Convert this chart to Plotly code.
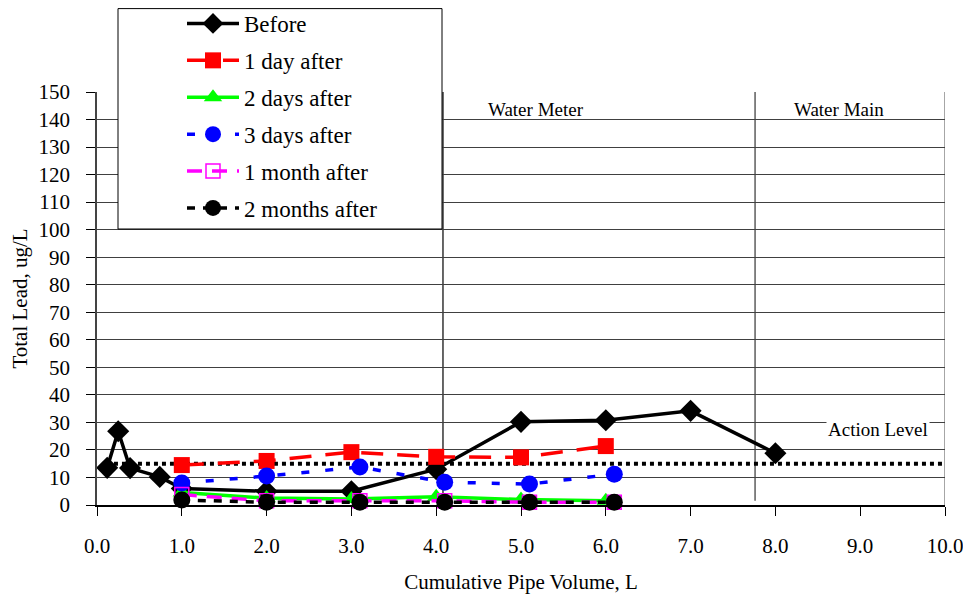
import plotly.graph_objects as go

# ---- data ----
before_x = [0.12, 0.25, 0.39, 0.74, 1.0, 2.0, 3.0, 4.0, 5.0, 6.0, 7.0, 8.0]
before_y = [13.5, 26.8, 13.4, 10.2, 6.0, 5.0, 5.0, 13.0, 30.2, 30.8, 34.2, 18.8]

day1_x = [1.0, 2.0, 3.0, 4.0, 5.0, 6.0]
day1_y = [14.5, 16.0, 19.2, 17.5, 17.3, 21.4]

day2_x = [1.0, 2.0, 3.0, 4.0, 5.0, 6.0]
day2_y = [4.5, 2.5, 2.2, 3.0, 2.0, 1.5]

day3_x = [1.0, 2.0, 3.1, 4.1, 5.1, 6.1]
day3_y = [8.0, 10.5, 13.8, 8.3, 7.6, 11.2]

month1_x = [1.0, 2.0, 3.1, 4.1, 5.1, 6.1]
month1_y = [3.8, 1.5, 1.5, 1.5, 1.0, 1.0]

month2_x = [1.0, 2.0, 3.1, 4.1, 5.1, 6.1]
month2_y = [1.8, 1.0, 1.0, 1.0, 1.0, 1.0]

action_level = 15
meter_x = 4.08
main_x = 7.76

x_ticks = [0, 1, 2, 3, 4, 5, 6, 7, 8, 9, 10]
y_ticks = list(range(0, 151, 10))

FONT = "Liberation Serif, Times New Roman, serif"

# page offset (browser body margin)
OFF = 8
W, H = 971 - OFF, 596 - OFF
L, R, T, B = 97 - OFF, 26, 92 - OFF, 91
PW, PH = W - L - R, H - T - B


def sx(px):
    """screen px -> paper x"""
    return (px - OFF - L) / PW


def sy(py):
    """screen px -> paper y"""
    return (H - B - (py - OFF)) / PH


fig = go.Figure()

series = [
    ("Before", before_x, before_y, "black", "solid", "diamond", 17),
    ("1 day after", day1_x, day1_y, "#ff0000", "22px,14px", "square", 16),
    ("2 days after", day2_x, day2_y, "#00ff00", "solid", "triangle-up", 16),
    ("3 days after", day3_x, day3_y, "#0000ff", "8px,16px", "circle", 17),
    ("1 month after", month1_x, month1_y, "#ff00ff", "15px,10px", "square-open", 14),
    ("2 months after", month2_x, month2_y, "black", "8px,8px", "circle", 17),
]

# Action level line (drawn first, behind series)
fig.add_trace(go.Scatter(
    x=[0.2, 10.06], y=[action_level, action_level], mode="lines",
    line=dict(color="black", width=4, dash="dot"), showlegend=False,
    hoverinfo="skip", cliponaxis=False))

for i, (name, xs, ys, col, dash, sym, size) in enumerate(series):
    fig.add_trace(go.Scatter(
        x=xs, y=ys, name=name, mode="lines+markers",
        line=dict(color=col, width=3.5, dash=dash),
        marker=dict(symbol=sym, size=size, color=col,
                    line=dict(color=col, width=1.5 if sym == "square-open" else 0)),
        legendgroup=str(i), cliponaxis=False))

shapes = [
    # legend box
    dict(type="rect", xref="paper", yref="paper",
         x0=sx(118), x1=sx(442),
         y0=sy(229), y1=sy(8.6),
         line=dict(color="black", width=1), fillcolor="white", layer="above"),
    # water meter line
    dict(type="line", xref="x", yref="y", x0=meter_x, x1=meter_x, y0=0, y1=150,
         line=dict(color="black", width=1.2), layer="below"),
    # water main line
    dict(type="line", xref="x", yref="y", x0=main_x, x1=main_x, y0=1.5, y1=150,
         line=dict(color="#333333", width=1.2), layer="below"),
    # right border
    dict(type="line", xref="x", yref="y", x0=10, x1=10, y0=0, y1=150,
         line=dict(color="#888888", width=1.5), layer="below"),
]

annotations = [
    dict(x=5.18, y=143.8, xref="x", yref="y", text="Water Meter",
         showarrow=False, font=dict(family=FONT, size=19, color="black")),
    dict(x=8.75, y=143.8, xref="x", yref="y", text="Water Main",
         showarrow=False, font=dict(family=FONT, size=19, color="black")),
    dict(x=9.21, y=27.4, xref="x", yref="y", text="Action Level",
         showarrow=False, bgcolor="white", font=dict(family=FONT, size=19, color="black")),
]

fig.update_layout(
    template="none",
    width=W, height=H,
    margin=dict(l=L, r=R, t=T, b=B, autoexpand=False),
    paper_bgcolor="white", plot_bgcolor="white",
    font=dict(family=FONT, size=20, color="black"),
    shapes=shapes, annotations=annotations,
    legend=dict(x=sx(182), y=sy(2), xanchor="left", yanchor="top",
                bgcolor="rgba(0,0,0,0)", borderwidth=0,
                font=dict(family=FONT, size=23, color="black"),
                traceorder="grouped", tracegroupgap=4, itemwidth=52),
    showlegend=True,
)

fig.update_xaxes(range=[0, 10], tickvals=x_ticks, ticktext=[f"{v:.1f}" for v in x_ticks],
                 automargin=False,
                 showgrid=False, zeroline=False, showline=True, linecolor="black", linewidth=1.5,
                 ticks="outside", ticklen=9, tickcolor="black", tickwidth=1.2,
                 ticklabelstandoff=12,
                 title=dict(text="Cumulative Pipe Volume, L", font=dict(family=FONT, size=21, color="black"), standoff=17),
                 tickfont=dict(family=FONT, size=21, color="black"))
fig.update_yaxes(range=[0, 150], tickvals=y_ticks,
                 automargin=False,
                 showgrid=True, gridcolor="#404040", gridwidth=1, zeroline=False,
                 showline=True, linecolor="#444444", linewidth=1.5,
                 ticks="outside", ticklen=9, tickcolor="black", tickwidth=1.2,
                 ticklabelstandoff=12,
                 title=dict(text="Total Lead, ug/L", font=dict(family=FONT, size=21, color="black"), standoff=10),
                 tickfont=dict(family=FONT, size=21, color="black"))

fig.write_html("out.html")
